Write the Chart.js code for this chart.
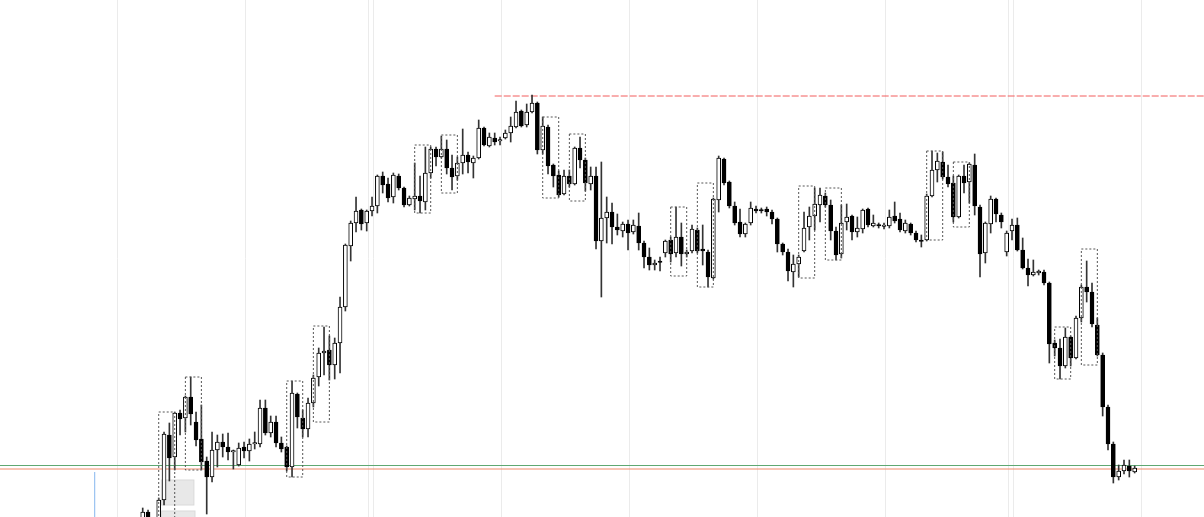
<!DOCTYPE html>
<html>
<head>
<meta charset="utf-8">
<script src="https://cdn.jsdelivr.net/npm/chart.js@4"></script>
<style>
  html, body { margin: 0; padding: 0; background: #fff; }
  #wrap { width: 1204px; height: 517px; position: relative; }
</style>
</head>
<body>
<div id="wrap"><canvas id="priceChart"></canvas></div>
<script>
// OHLC per candle (index = candle number)
const opens = [
  -8, 5, -13, -13, 17, 82, 60, 104, 99, 120,
  95, 78, 56, 40, 67, 75, 70, 65, 52, 70,
  66, 73, 73, 109, 84, 95, 74, 70, 50, 123,
  99, 88, 114, 140, 164, 167, 152, 174, 210, 271,
  294, 307, 294, 306, 311, 341, 333, 320, 341, 329,
  312, 318, 321, 315, 344, 368, 360, 368, 349, 341,
  354, 362, 354, 359, 389, 371, 379, 376, 379, 384,
  390, 406, 392, 405, 414, 367, 390, 352, 342, 323,
  341, 333, 369, 357, 333, 341, 276, 299, 305, 290,
  286, 293, 285, 291, 274, 260, 252, 255, 264, 277,
  264, 280, 263, 266, 287, 268, 265, 239, 317, 358,
  335, 311, 295, 283, 294, 308, 307, 308, 305, 298,
  273, 265, 245, 253, 266, 290, 301, 312, 321, 312,
  286, 263, 295, 301, 285, 288, 308, 291, 292, 290.5,
  291, 301, 298, 286, 293, 284, 276, 277, 321, 347,
  355, 340, 334, 300, 341, 335, 352, 310, 264, 293,
  318, 302, 265, 286, 292, 267, 249, 242, 244, 245,
  234, 174, 169, 151, 180, 159, 199, 230, 225, 192,
  162, 110, 73, 40, 46, 51, 45
];
const highs = [
  9, 7, -2, 19, 85, 94, 105, 107, 121, 140,
  105, 112, 60, 85, 82, 83, 84, 67, 74, 75,
  78, 85, 117, 117, 101, 101, 80, 71, 136, 124,
  107, 119, 142, 169, 190, 181, 179, 220, 273, 296,
  320, 308, 307, 320, 342, 345, 339, 344, 343, 330,
  321, 354, 341, 370, 370, 370, 381, 377, 362, 360,
  388, 365, 361, 397, 390, 384, 384, 380, 387, 400,
  416, 407, 413, 422, 415, 400, 392, 353, 346, 347,
  347, 370, 380, 359, 350, 350, 355, 320, 314, 303,
  295, 297, 297, 304, 276, 269, 257, 260, 277, 280,
  310, 294, 267, 292, 289, 292, 267, 319, 361, 359,
  336, 315, 308, 294, 315, 311, 309, 310, 307, 299,
  274, 268, 262, 262, 305, 310, 329, 329, 324, 317,
  290, 312, 313, 302, 300, 308, 309, 302, 294, 294,
  307, 315, 304, 297, 294, 286, 282, 323, 366, 364,
  365, 352, 341, 342, 352, 354, 363, 312, 295, 321,
  319, 304, 286, 298, 299, 279, 258, 257, 247, 247,
  235, 177, 178, 189, 181, 201, 232, 256, 234, 199,
  164, 112, 75, 52, 57, 57, 51
];
const lows = [
  -13, -13, -18, -18, 12, 36, 47, 82, 85, 92,
  71, 47, 3, 35, 50, 60, 57, 48, 51, 59,
  56, 68, 70, 82, 80, 70, 65, 46, 40, 89,
  80, 80, 110, 131, 142, 137, 138, 144, 206, 256,
  285, 287, 286, 301, 304, 324, 315, 314, 327, 310,
  311, 307, 304, 307, 339, 351, 359, 343, 327, 337,
  343, 344, 339, 358, 371, 370, 372, 372, 378, 375,
  389, 390, 390, 404, 363, 363, 343, 330, 320, 322,
  330, 332, 349, 326, 327, 268, 220, 274, 273, 282,
  280, 267, 283, 267, 249, 247, 247, 246, 260, 255,
  260, 251, 260, 264, 264, 252, 230, 238, 305, 332,
  309, 292, 280, 280, 292, 304, 304, 301, 293, 265,
  262, 236, 230, 240, 265, 277, 287, 295, 310, 277,
  257, 259, 287, 277, 280, 284, 290, 290, 289, 288,
  289, 294, 285, 284, 282, 275, 270, 276, 320, 335,
  338, 330, 295, 299, 324, 314, 302, 240, 254, 284,
  295, 289, 261, 277, 266, 248, 231, 241, 242, 232,
  154, 161, 138, 149, 151, 158, 195, 215, 190, 161,
  101, 67, 34, 37, 43, 40, 44
];
const closes = [
  5, -8, -5, 17, 83, 59, 104, 98, 120, 103,
  77, 55, 40, 67, 75, 70, 65, 66, 69, 66,
  73, 74, 109, 84, 95, 74, 68, 50, 124, 100,
  88, 114, 139, 164, 166, 152, 174, 210, 272, 294,
  306, 293, 306, 311, 341, 332, 319, 342, 329, 312,
  319, 321, 316, 344, 368, 360, 368, 349, 340, 354,
  362, 355, 359, 389, 372, 380, 375, 377, 384, 391,
  405, 391, 405, 414, 367, 391, 351, 341, 322, 341,
  333, 369, 357, 334, 341, 276, 299, 305, 290, 287,
  293, 284, 292, 274, 260, 252, 254, 254.5, 276, 263,
  280, 263, 265, 288, 266, 266, 240, 318, 359, 334,
  311, 294, 283, 293, 309, 306, 306, 305, 298, 273,
  265, 246, 253, 260, 289, 301, 313, 322, 312, 286,
  262, 294, 300, 285, 289, 307, 292, 294, 291, 291,
  300, 296, 287, 294, 284, 277, 275.5, 321, 347, 356,
  340, 333, 300, 341, 334, 353, 311, 263, 294, 318,
  303, 295, 284, 292, 267, 249, 242, 245, 246, 234,
  173, 169, 151, 180, 159, 199, 230, 225, 193, 162,
  110, 73, 40, 46, 52, 46, 49
];

// session separators (vertical grid), in candle index units
const sessionBreaks = [-4.8, 19.2, 42.3, 43.2, 67.2, 91.2, 115.2, 139.2, 162.3, 163.2, 187.2];

// pattern boxes (dotted)
const boxFrom   = [3, 8, 27, 32, 51, 56, 75, 80, 99, 104, 123, 128, 147, 152, 171, 176];
const boxTo     = [6, 11, 30, 35, 54, 59, 78, 83, 102, 107, 126, 131, 150, 155, 174, 179];
const boxTop    = [105, 140, 136, 191, 372, 382, 400, 383, 310, 334, 331, 329, 366, 355, 190, 268];
const boxBottom = [-15, 47, 40, 95, 304, 324, 319, 316, 241, 230, 239, 257, 277, 290, 138, 152];

// grey zones bottom left
const zoneFrom   = [3.5, 3.5];
const zoneTo     = [9.6, 9.8];
const zoneTop    = [37, 6];
const zoneBottom = [12, -10];

// levels
const supportLevels = [51.5, 48];
const supportColors = ['#5fa872', '#f08a6a'];
const resistanceLevel = 421;
const resistanceStart = 66;
const markerIndex = -9;
const markerTop = 45;

const wickData = highs.map((h, i) => ({ x: i, y: [lows[i], h] }));
const bodyData = opens.map((o, i) => ({ x: i, y: [o, closes[i]] }));
const bodyColors = opens.map((o, i) => closes[i] >= o ? '#ffffff' : '#000000');

const overlay = {
  id: 'overlay',
  beforeDatasetsDraw(chart) {
    const { ctx, chartArea, scales: { x, y } } = chart;
    ctx.save();
    // grey zones
    zoneFrom.forEach((f, i) => {
      const x1 = x.getPixelForValue(f), x2 = x.getPixelForValue(zoneTo[i]);
      const y1 = y.getPixelForValue(zoneTop[i]), y2 = y.getPixelForValue(zoneBottom[i]);
      ctx.fillStyle = '#e8e8e8';
      ctx.fillRect(x1, y1, x2 - x1, y2 - y1);
      ctx.strokeStyle = '#dadada';
      ctx.lineWidth = 1;
      ctx.strokeRect(x1, y1, x2 - x1, y2 - y1);
    });
    // support lines
    supportLevels.forEach((lv, i) => {
      const py = y.getPixelForValue(lv);
      ctx.strokeStyle = supportColors[i];
      ctx.lineWidth = 1;
      ctx.beginPath();
      ctx.moveTo(chartArea.left, py);
      ctx.lineTo(chartArea.right, py);
      ctx.stroke();
    });
    // resistance dashed
    const ry = y.getPixelForValue(resistanceLevel);
    ctx.strokeStyle = '#f25c5c';
    ctx.setLineDash([7, 2]);
    ctx.beginPath();
    ctx.moveTo(x.getPixelForValue(resistanceStart), ry);
    ctx.lineTo(chartArea.right, ry);
    ctx.stroke();
    ctx.setLineDash([]);
    // blue marker
    const mx = x.getPixelForValue(markerIndex);
    ctx.strokeStyle = '#86b6ee';
    ctx.beginPath();
    ctx.moveTo(mx, y.getPixelForValue(markerTop));
    ctx.lineTo(mx, chartArea.bottom);
    ctx.stroke();
    ctx.restore();
  },
  afterDatasetsDraw(chart) {
    const { ctx, scales: { x, y } } = chart;
    ctx.save();
    ctx.strokeStyle = '#555';
    ctx.lineWidth = 1;
    ctx.setLineDash([2, 2]);
    boxFrom.forEach((f, i) => {
      const x1 = x.getPixelForValue(f), x2 = x.getPixelForValue(boxTo[i]);
      const y1 = y.getPixelForValue(boxTop[i]), y2 = y.getPixelForValue(boxBottom[i]);
      ctx.strokeRect(x1, y1, x2 - x1, y2 - y1);
    });
    ctx.restore();
  }
};

new Chart(document.getElementById('priceChart'), {
  type: 'bar',
  data: {
    datasets: [
      {
        label: 'body',
        data: bodyData,
        backgroundColor: bodyColors,
        borderColor: '#000',
        borderWidth: 1,
        borderSkipped: false,
        barThickness: 4,
        minBarLength: 1.5,
        grouped: false,
        order: 0
      },
      {
        label: 'wick',
        data: wickData,
        backgroundColor: '#333',
        barThickness: 1,
        grouped: false,
        order: 1
      }
    ]
  },
  options: {
    responsive: true,
    maintainAspectRatio: false,
    animation: false,
    layout: { padding: 0 },
    plugins: { legend: { display: false }, tooltip: { enabled: false } },
    scales: {
      x: {
        type: 'linear',
        min: -26.76,
        max: 199,
        offset: false,
        afterBuildTicks: axis => { axis.ticks = sessionBreaks.map(v => ({ value: v })); },
        ticks: { display: false },
        grid: { color: '#ebebeb', drawTicks: false, offset: false },
        border: { display: false }
      },
      y: { min: 0, max: 517, display: false }
    }
  },
  plugins: [overlay]
});
</script>
</body>
</html>
